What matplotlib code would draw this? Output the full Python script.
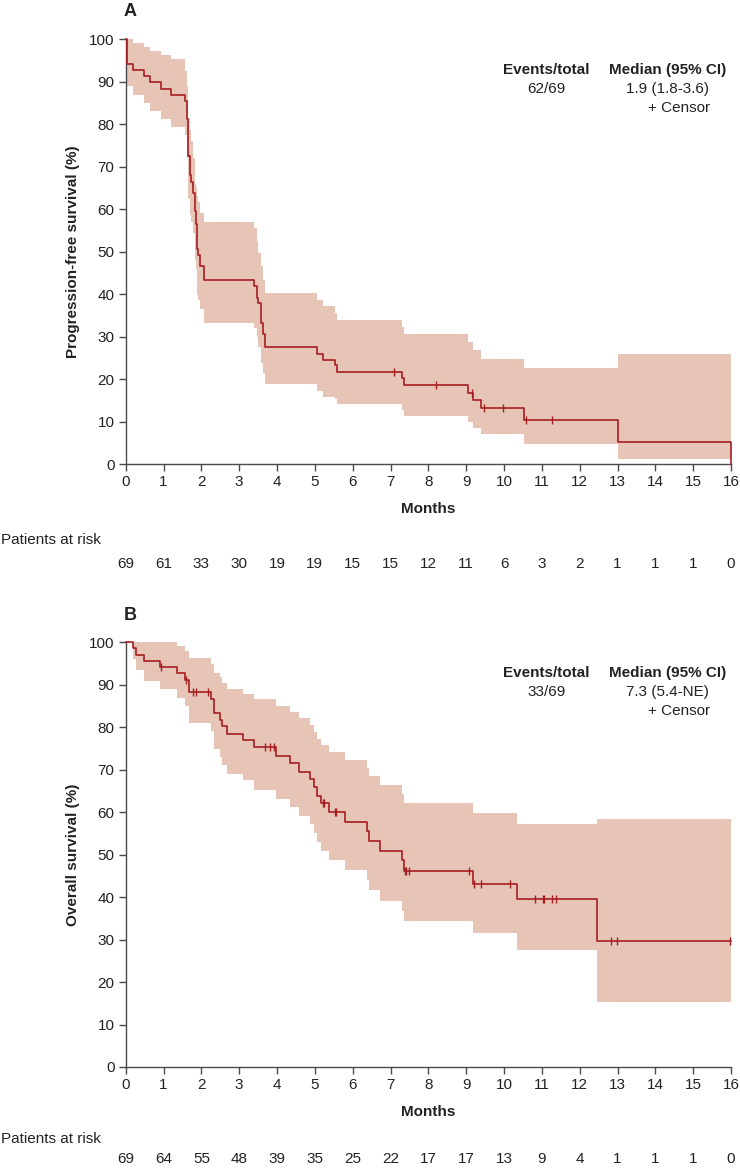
"""
Kaplan-Meier curves: progression-free survival (A) and overall survival (B)
with 95% CI band, censor ticks and patients-at-risk table.
"""
import matplotlib
matplotlib.use("Agg")
import matplotlib.pyplot as plt
import matplotlib.transforms as mtransforms
import numpy as np

plt.rcParams["font.family"] = ["Liberation Sans", "DejaVu Sans"]

# -----------------------------------------------------------------------------
# Data
# -----------------------------------------------------------------------------
months = list(range(0, 17))

# Panel A: progression-free survival
pfs_time = [0.00, 0.04, 0.20, 0.48, 0.63, 0.92, 1.21, 1.58, 1.61, 1.65, 1.66,
            1.69, 1.73, 1.77, 1.82, 1.86, 1.88, 1.92, 1.96, 2.07, 3.39, 3.47,
            3.51, 3.57, 3.62, 3.69, 5.06, 5.22, 5.54, 5.59, 7.30, 7.35, 9.05,
            9.19, 9.38, 10.52, 13.00, 16.00]
pfs_surv = [100.0, 94.2, 92.75, 91.3, 89.9, 88.4, 87.0, 85.5, 81.2, 73.9, 72.5,
            68.1, 66.5, 63.8, 59.5, 56.5, 50.7, 49.3, 46.6, 43.4, 42.0, 39.1,
            37.8, 33.2, 30.5, 27.6, 26.0, 24.6, 23.2, 21.7, 20.2, 18.5, 16.7,
            15.1, 13.1, 10.4, 5.2, 0.0]
pfs_lower = [89.0, 89.0, 87.0, 85.1, 83.0, 81.2, 79.3, 77.5, 72.0, 64.5, 62.5,
             58.7, 57.0, 54.5, 48.0, 45.8, 39.9, 38.7, 36.4, 33.2, 32.0, 30.0,
             27.5, 23.8, 21.4, 18.8, 17.3, 15.8, 15.2, 14.1, 12.7, 11.3, 9.9,
             8.4, 7.0, 4.8, 1.2, 1.2]
pfs_upper = [100.0, 100.0, 99.1, 98.1, 97.3, 96.3, 95.3, 92.5, 89.0, 83.0, 81.5,
             78.6, 76.0, 72.0, 66.0, 65.3, 63.0, 61.8, 59.1, 57.0, 55.6, 52.5,
             49.7, 46.6, 43.4, 40.3, 38.7, 37.1, 35.6, 34.0, 32.3, 30.5, 28.8,
             26.8, 24.7, 22.7, 25.8, 25.8]
pfs_censor = [7.10, 8.19, 9.16, 9.47, 9.98, 10.58, 11.28]
pfs_at_risk = [69, 61, 33, 30, 19, 19, 15, 15, 12, 11, 6, 3, 2, 1, 1, 1, 0]
pfs_events = "62/69"
pfs_median = "1.9 (1.8-3.6)"

# Panel B: overall survival
os_time = [0.00, 0.18, 0.26, 0.49, 0.91, 1.36, 1.58, 1.68, 2.26, 2.34, 2.49,
           2.54, 2.69, 3.10, 3.39, 3.97, 4.34, 4.58, 4.87, 4.97, 5.06, 5.15,
           5.37, 5.79, 6.39, 6.44, 6.72, 7.30, 7.36, 9.17, 10.35, 12.46, 16.00]
os_surv = [100.0, 98.55, 97.1, 95.7, 94.1, 92.7, 91.2, 88.2, 86.7, 83.4, 81.7,
           80.2, 78.4, 76.9, 75.3, 73.3, 71.5, 69.4, 67.7, 65.9, 63.9, 62.1,
           60.0, 57.8, 55.5, 53.2, 50.8, 48.7, 46.1, 43.2, 39.6, 29.6, 29.6]
os_lower = [100.0, 96.0, 93.5, 91.0, 88.9, 86.8, 84.9, 80.9, 79.0, 74.9, 72.9,
            71.2, 69.0, 67.5, 65.3, 63.1, 61.2, 59.2, 57.3, 55.0, 53.0, 50.9,
            48.8, 46.5, 44.1, 41.6, 39.2, 36.7, 34.3, 31.5, 27.6, 15.2, 15.2]
os_upper = [100.0, 100.0, 100.0, 100.0, 100.0, 99.1, 98.0, 96.2, 94.9, 92.8, 91.8,
            90.4, 89.0, 87.8, 86.7, 84.9, 83.5, 82.2, 80.6, 78.8, 77.3, 75.9,
            74.1, 72.2, 70.4, 68.6, 66.3, 64.3, 62.1, 59.8, 57.3, 58.3, 58.3]
os_censor = [0.93, 1.60, 1.77, 1.86, 2.17, 3.69, 3.81, 3.93, 5.22, 5.25, 5.52,
             5.57, 7.38, 7.41, 7.49, 9.08, 9.21, 9.40, 10.16, 10.82, 11.02,
             11.05, 11.28, 11.38, 12.82, 12.99, 15.98]
os_at_risk = [69, 64, 55, 48, 39, 35, 25, 22, 17, 17, 13, 9, 4, 1, 1, 1, 0]
os_events = "33/69"
os_median = "7.3 (5.4-NE)"

# -----------------------------------------------------------------------------
# Style
# -----------------------------------------------------------------------------
W, H = 740, 1173
LINE = "#A81E22"
BAND = "#E6C4B6"
AXC = "#4a4a4a"
TXT = "#222222"
FS = 11

fig = plt.figure(figsize=(W / 100, H / 100), dpi=100)


def px(x, y):
    """pixel position (from top-left) -> figure fraction"""
    return x / W, 1 - y / H


def panel(off, risk_y, letter, ylabel, t, s, lo, hi, cens, at_risk,
          events, median):
    ax = fig.add_axes([125.7 / W, 1 - (464 + off) / H, 605.3 / W, 424.7 / H])

    ax.fill_between(t, lo, hi, step="post", color=BAND, lw=0, zorder=1)
    ax.step(t, s, where="post", color=LINE, lw=1.2, zorder=3, clip_on=False)

    # censor ticks sit on the step curve
    idx = np.searchsorted(t, cens, side="right") - 1
    cy = np.asarray(s)[idx]
    ax.plot(cens, cy, ls="none", marker="|", ms=6, mew=1.0, color=LINE,
            zorder=4, clip_on=False)

    ax.set_xlim(0, 16)
    ax.set_ylim(0, 100)
    ax.set_xticks(months)
    ax.set_yticks(range(0, 101, 10))
    for side in ["top", "right"]:
        ax.spines[side].set_visible(False)
    for side in ["left", "bottom"]:
        ax.spines[side].set_color(AXC)
        ax.spines[side].set_linewidth(1.0)
    ax.tick_params(colors=AXC, labelcolor=TXT, labelsize=FS,
                   length=5, width=1.0, pad=3)

    ax.set_ylabel(ylabel, fontsize=FS, fontweight="bold", color=TXT)
    ax.yaxis.set_label_coords((80 - 125.7) / 605.3, 0.5)

    fig.text(*px(428, 509 + off), "Months", fontsize=FS, fontweight="bold",
             ha="center", va="center", color=TXT)
    fig.text(*px(124, 12 + off), letter, fontsize=13, fontweight="bold",
             ha="left", va="center", color=TXT)

    # events / median block
    fig.text(*px(546.5, 70 + off), "Events/total", fontsize=FS,
             fontweight="bold", ha="center", va="center", color=TXT)
    fig.text(*px(667.5, 70 + off), "Median (95% CI)", fontsize=FS,
             fontweight="bold", ha="center", va="center", color=TXT)
    fig.text(*px(546.5, 89 + off), events, fontsize=FS, ha="center",
             va="center", color=TXT)
    fig.text(*px(667.5, 89 + off), median, fontsize=FS, ha="center",
             va="center", color=TXT)
    fig.text(*px(710.5, 108 + off), "+ Censor", fontsize=FS, ha="right",
             va="center", color=TXT)

    # patients at risk
    fig.text(*px(1, risk_y[0]), "Patients at risk", fontsize=FS, ha="left",
             va="center", color=TXT)
    trans = mtransforms.blended_transform_factory(ax.transData, fig.transFigure)
    yy = 1 - risk_y[1] / H
    for m, n in zip(months, at_risk):
        ax.text(m, yy, str(n), transform=trans, fontsize=FS, ha="center",
                va="center", color=TXT, clip_on=False)
    return ax


panel(0, (540, 564), "A", "Progression-free survival (%)", pfs_time, pfs_surv,
      pfs_lower, pfs_upper, pfs_censor, pfs_at_risk, pfs_events, pfs_median)
panel(603, (1139, 1159), "B", "Overall survival (%)", os_time, os_surv,
      os_lower, os_upper, os_censor, os_at_risk, os_events, os_median)

fig.savefig("out.png", dpi=100)
